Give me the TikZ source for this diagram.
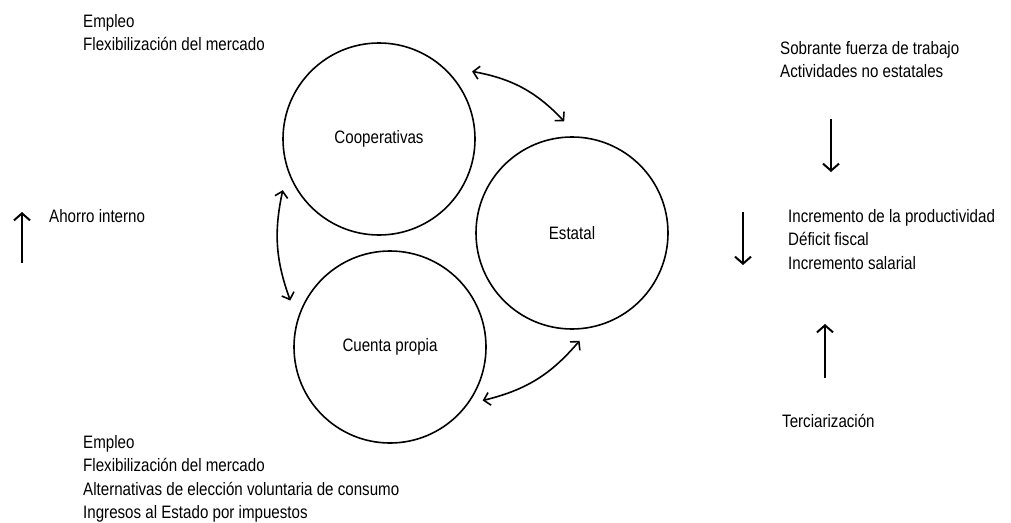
\documentclass[tikz,border=0pt]{standalone}
\usepackage{fontspec}
\setmainfont{Liberation Sans}[FakeStretch=0.84]
\usetikzlibrary{arrows}
\usetikzlibrary{arrows.meta}
\usetikzlibrary{calc}

\tikzset{
 sector/.style={circle, draw, line width=1.6pt, minimum size=192pt, inner sep=0pt},
 note/.style={anchor=north west, align=left, inner sep=0pt},
 flow/.style={{Straight Barb[length=6pt,width=13pt]}-{Straight Barb[length=6pt,width=13pt]}, line width=1.6pt},
 trend/.style={-{Straight Barb[length=7pt,width=16pt]}, line width=2pt},
}

\begin{document}
\begin{tikzpicture}[x=1pt, y=-1pt, font=\fontsize{18}{23.5}\selectfont]
\useasboundingbox (0,0) rectangle (1011,522);
\node[sector] (coop) at (379,139) {Cooperativas};
\node[sector] (est) at (572,233) {Estatal};
\node[sector] (cuenta) at (390,347) {Cuenta propia};

\draw[flow] ([shift={(36:115pt)}]coop.center) to[bend left=18] ([shift={(94:112pt)}]est.center);
\draw[flow] ([shift={(208:109pt)}]coop.center) to[bend right=16] ([shift={(155:110pt)}]cuenta.center);
\draw[flow] ([shift={(-30:107pt)}]cuenta.center) to[bend right=18] ([shift={(-86:108pt)}]est.center);

\node[note] (empleo) at (83,14) {Empleo\\Flexibilización del mercado};
\node[note] (ahorro) at (49,209) {Ahorro interno};
\node[note] (sobrante) at (780,41) {Sobrante fuerza de trabajo\\Actividades no estatales};
\node[note] (incremento) at (788,209) {Incremento de la productividad\\Déficit fiscal\\Incremento salarial};
\node[note] (terciar) at (782,414) {Terciarización};
\node[note] (cuentaefec) at (83,435) {Empleo\\Flexibilización del mercado\\Alternativas de elección voluntaria de consumo\\Ingresos al Estado por impuestos};

\foreach \n/\x/\ya/\yb in {ahorro/22/263/212, sobrante/831/119/172, incremento/743/212/265, terciar/825/378/324} {
 \coordinate (\n-s) at (\x,\ya);
 \coordinate (\n-e) at (\x,\yb);
 \draw[trend] (\n-s) -- (\n-e);
}
\end{tikzpicture}
\end{document}
